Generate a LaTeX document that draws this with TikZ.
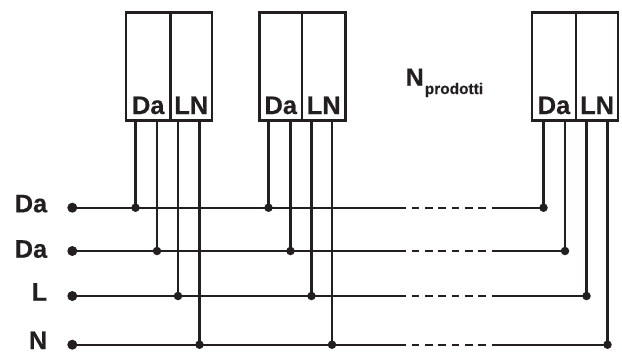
\documentclass[tikz,border=0pt]{standalone}
\usepackage{fontspec}
\setmainfont[BoldFont={Liberation Sans Bold},BoldFeatures={FakeBold=0.4}]{Liberation Sans}
\definecolor{ink}{HTML}{231F20}
\begin{document}
\begin{tikzpicture}[x=1bp,y=-1bp,
  wire/.style={draw=ink,line width=2.2bp},
  frame/.style={draw=ink,line width=2.1bp,fill=none},
  pinlabel/.style={text=ink,font=\bfseries\fontsize{25.5}{25.5}\selectfont,inner sep=0pt,anchor=base},
  sidelabel/.style={text=ink,font=\bfseries\fontsize{25.5}{25.5}\selectfont,inner sep=0pt,anchor=base east},
  startdot/.style={circle,fill=ink,inner sep=0pt,minimum size=10bp},
  joint/.style={circle,fill=ink,inner sep=0pt,minimum size=8.5bp}]
\useasboundingbox (0,0) rectangle (622,352);
% buses: start dots and labels
\foreach \n/\y in {1/207.7,2/251,3/296,4/344.7}{
  \node[startdot] (s\n) at (72.3,\y) {};
  \coordinate (gapa\n) at (406,\y);
  \coordinate (gapb\n) at (411.7,\y);
  \coordinate (gapc\n) at (491.7,\y);
}
\node[sidelabel] (ls1) at (47.4,212.3) {Da};
\node[sidelabel] (ls2) at (47.4,257.7) {Da};
\node[sidelabel] (ls3) at (47.4,300.7) {L};
\node[sidelabel] (ls4) at (47.4,349) {N};
% products
\foreach \b/\xl/\xm/\xr/\pa/\pb/\pc/\pd in {
  1/126/170.5/212/135.5/157/178/199.5,
  2/259.5/302/345.5/268.5/290.5/311.5/332,
  3/531.7/576.3/618/543.5/565/586.5/607.5}{
  \draw[frame] (\xl,12.5) rectangle (\xr,120.5);
  \coordinate (top\b) at (\xm,12.5);
  \coordinate (bot\b) at (\xm,120.5);
  \draw[frame] (top\b) -- (bot\b);
  \node[pinlabel] (lda\b) at ({(\xl+\xm)/2},114) {Da};
  \node[pinlabel] (lln\b) at ({(\xm+\xr)/2},114) {LN};
  \foreach \i/\x/\y in {1/\pa/207.7,2/\pb/251,3/\pc/296,4/\pd/344.7}{
    \node[joint] (j\b\i) at (\x,\y) {};
    \coordinate (p\b\i) at (\x,120.5);
    \draw[wire] (p\b\i) -- (j\b\i.center);
  }
}
% bus wires
\foreach \n in {1,2,3,4}{
  \draw[wire] (s\n.center) -- (gapa\n);
  \draw[wire,dash pattern=on 7.7bp off 5.6bp] (gapb\n) -- (gapc\n);
  \draw[wire] (gapc\n) -- (j3\n.center);
}
% count label
\node[text=ink,font=\bfseries\fontsize{25}{25}\selectfont,inner sep=0pt,anchor=base west] (nn) at (405.5,85.7) {N};
\node[text=ink,font=\bfseries\fontsize{15.5}{15.5}\selectfont,inner sep=0pt,anchor=base west] (np) at (424.6,94) {prodotti};
\end{tikzpicture}
\end{document}
